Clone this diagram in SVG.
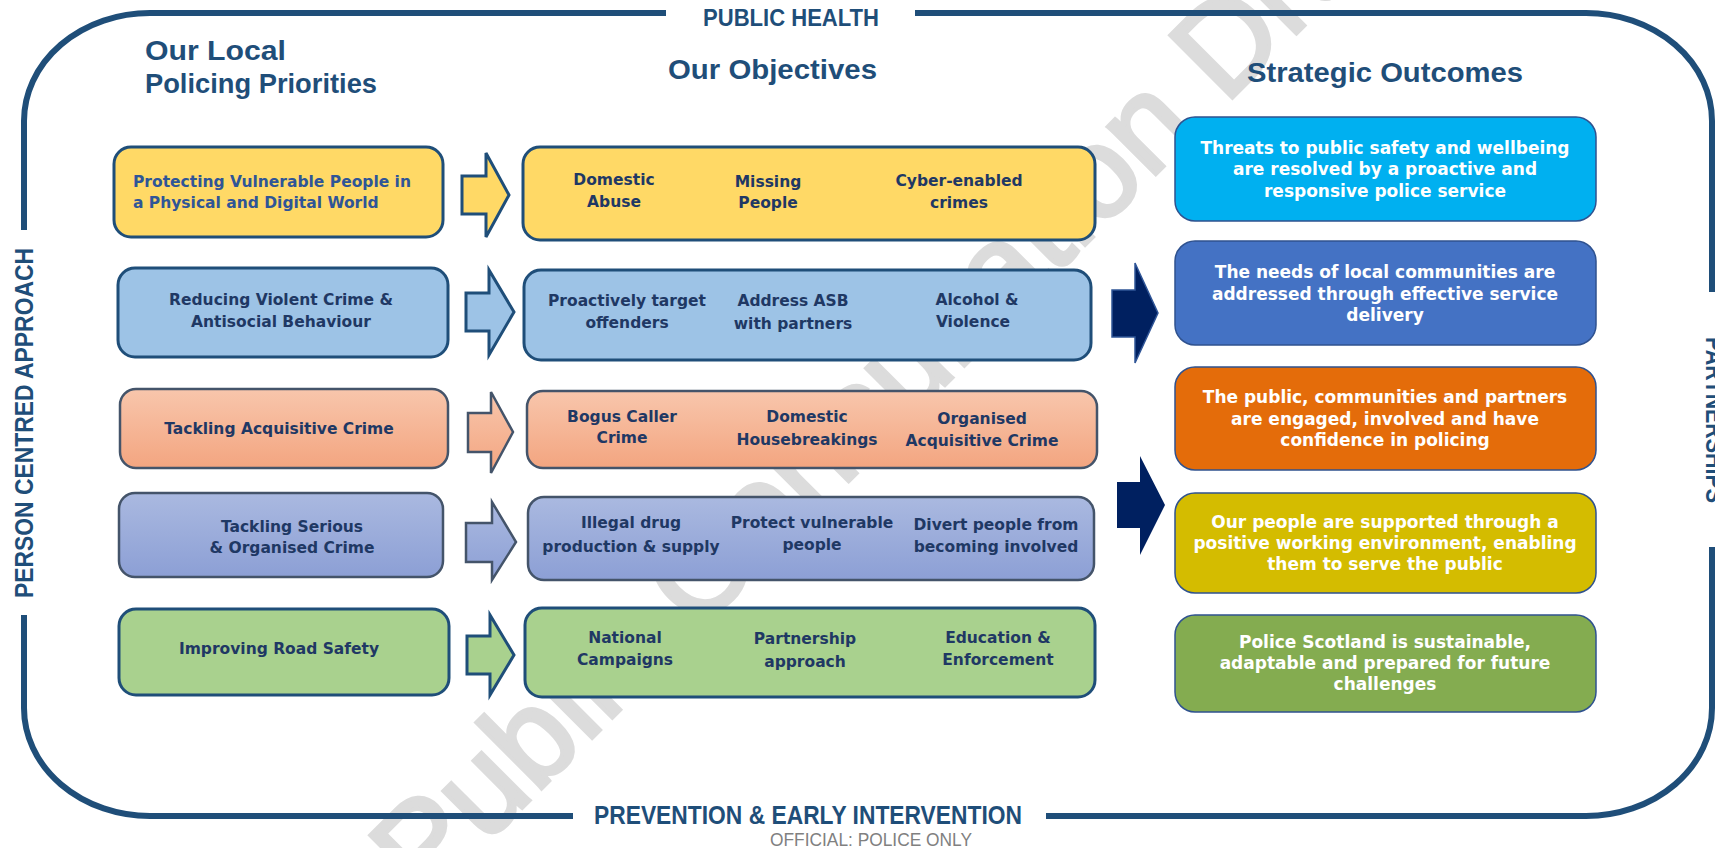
<svg xmlns="http://www.w3.org/2000/svg" width="1715" height="848" viewBox="0 0 1715 848">
<defs>
<linearGradient id="gSalmon" x1="0" y1="0" x2="0" y2="1"><stop offset="0" stop-color="#F8C6AC"/><stop offset="1" stop-color="#F3A580"/></linearGradient>
<linearGradient id="gPeri" x1="0" y1="0" x2="0" y2="1"><stop offset="0" stop-color="#AAB9E0"/><stop offset="1" stop-color="#8C9FD5"/></linearGradient>
<style>
.frame{fill:none;stroke:#1F4E79;stroke-width:6}
.hd{font-family:"Liberation Sans",Arial,sans-serif;font-weight:bold;fill:#1F4E79}
.bt{font-family:"DejaVu Sans",sans-serif;font-weight:bold;font-size:15.5px;fill:#1F3864;text-anchor:middle}
.ot{font-family:"DejaVu Sans",sans-serif;font-weight:bold;font-size:17px;fill:#FFFFFF;text-anchor:middle}
.bx{stroke:#1F4E79;stroke-width:3}
.bxg{stroke:#44546A;stroke-width:2.5}
.ob{stroke:#2F528F;stroke-width:1.5}
.yel{fill:#FFD966}.blu{fill:#9DC3E6}.sal{fill:url(#gSalmon)}.per{fill:url(#gPeri)}.grn{fill:#A9D18E}
.big{fill:#002060;stroke:#2F5597;stroke-width:1.5}
.wm{font-family:"Liberation Sans",Arial,sans-serif;font-size:128px;fill:#DCDCDC;stroke:#DCDCDC;stroke-width:4}
</style>
</defs>
<rect width="1715" height="848" fill="#FFFFFF"/>

<g id="watermark">
<text class="wm" transform="translate(425,905) rotate(-45)">Public Consultation Draft</text>
</g>

<g id="frame">
<path class="frame" d="M666,13 L150,13 A126,108 0 0 0 24,121 L24,230 M24,615 L24,708 A126,108 0 0 0 150,816 L573,816 M1046,816 L1586,816 A126,108 0 0 0 1712,708 L1712,547 M1712,292 L1712,121 A126,108 0 0 0 1586,13 L915,13"/>
<text class="hd" x="791" y="26" font-size="24" text-anchor="middle" textLength="176" lengthAdjust="spacingAndGlyphs">PUBLIC HEALTH</text>
<text class="hd" x="808" y="824" font-size="25" text-anchor="middle" textLength="428" lengthAdjust="spacingAndGlyphs">PREVENTION &amp; EARLY INTERVENTION</text>
<text class="hd" font-size="25" text-anchor="middle" transform="translate(33,423) rotate(-90)" textLength="350" lengthAdjust="spacingAndGlyphs">PERSON CENTRED APPROACH</text>
<text class="hd" font-size="25" text-anchor="middle" transform="translate(1706,420) rotate(90)" textLength="166" lengthAdjust="spacingAndGlyphs">PARTNERSHIPS</text>
<text x="871" y="846" font-family="Liberation Sans, Arial, sans-serif" font-size="19" fill="#808080" text-anchor="middle" textLength="202" lengthAdjust="spacingAndGlyphs">OFFICIAL:  POLICE ONLY</text>
</g>

<g id="headings">
<text class="hd" x="145" y="60" font-size="28" textLength="141" lengthAdjust="spacingAndGlyphs">Our  Local</text>
<text class="hd" x="145" y="93" font-size="28" textLength="232" lengthAdjust="spacingAndGlyphs">Policing Priorities</text>
<text class="hd" x="668" y="79" font-size="28" textLength="209" lengthAdjust="spacingAndGlyphs">Our Objectives</text>
<text class="hd" x="1247" y="82" font-size="28" textLength="276" lengthAdjust="spacingAndGlyphs">Strategic Outcomes</text>
</g>

<g id="priority-1">
<rect class="bx yel" x="114" y="147" width="329" height="90" rx="17"/>
<text class="bt" style="text-anchor:start;fill:#2F5597" x="133" y="187">Protecting Vulnerable People in</text>
<text class="bt" style="text-anchor:start;fill:#2F5597" x="133" y="208">a Physical and Digital World</text>
</g>
<g id="priority-2">
<rect class="bx blu" x="118" y="268" width="330" height="89" rx="17"/>
<text class="bt" x="281" y="305">Reducing Violent Crime &amp;</text>
<text class="bt" x="281" y="327">Antisocial Behaviour</text>
</g>
<g id="priority-3">
<rect class="bxg sal" x="120" y="389" width="328" height="79" rx="16"/>
<text class="bt" x="279" y="434">Tackling Acquisitive Crime</text>
</g>
<g id="priority-4">
<rect class="bxg per" x="119" y="493" width="324" height="84" rx="16"/>
<text class="bt" x="292" y="532">Tackling Serious</text>
<text class="bt" x="292" y="553">&amp; Organised Crime</text>
</g>
<g id="priority-5">
<rect class="bx grn" x="119" y="609" width="330" height="86" rx="17"/>
<text class="bt" x="279" y="654">Improving Road Safety</text>
</g>

<g id="objectives-1">
<rect class="bx yel" x="523" y="147" width="572" height="93" rx="17"/>
<text class="bt" x="614" y="185">Domestic</text><text class="bt" x="614" y="207">Abuse</text>
<text class="bt" x="768" y="187">Missing</text><text class="bt" x="768" y="208">People</text>
<text class="bt" x="959" y="186">Cyber-enabled</text><text class="bt" x="959" y="208">crimes</text>
</g>
<g id="objectives-2">
<rect class="bx blu" x="524" y="270" width="567" height="90" rx="17"/>
<text class="bt" x="627" y="306">Proactively target</text><text class="bt" x="627" y="328">offenders</text>
<text class="bt" x="793" y="306">Address ASB</text><text class="bt" x="793" y="329">with partners</text>
<text class="bt" x="977" y="305">Alcohol &amp;</text><text class="bt" x="973" y="327">Violence</text>
</g>
<g id="objectives-3">
<rect class="bxg sal" x="527" y="391" width="570" height="77" rx="16"/>
<text class="bt" x="622" y="422">Bogus Caller</text><text class="bt" x="622" y="443">Crime</text>
<text class="bt" x="807" y="422">Domestic</text><text class="bt" x="807" y="445">Housebreakings</text>
<text class="bt" x="982" y="424">Organised</text><text class="bt" x="982" y="446">Acquisitive Crime</text>
</g>
<g id="objectives-4">
<rect class="bxg per" x="528" y="497" width="566" height="83" rx="16"/>
<text class="bt" x="631" y="528">Illegal drug</text><text class="bt" x="631" y="552">production &amp; supply</text>
<text class="bt" x="812" y="528">Protect vulnerable</text><text class="bt" x="812" y="550">people</text>
<text class="bt" x="996" y="530">Divert people from</text><text class="bt" x="996" y="552">becoming involved</text>
</g>
<g id="objectives-5">
<rect class="bx grn" x="525" y="608" width="570" height="89" rx="17"/>
<text class="bt" x="625" y="643">National</text><text class="bt" x="625" y="665">Campaigns</text>
<text class="bt" x="805" y="644">Partnership</text><text class="bt" x="805" y="667">approach</text>
<text class="bt" x="998" y="643">Education &amp;</text><text class="bt" x="998" y="665">Enforcement</text>
</g>

<g id="outcome-1">
<rect class="ob" fill="#00B0F0" x="1175" y="117" width="421" height="104" rx="20"/>
<text class="ot" x="1385" y="154">Threats to public safety and wellbeing</text>
<text class="ot" x="1385" y="175">are resolved by a proactive and</text>
<text class="ot" x="1385" y="197">responsive police service</text>
</g>
<g id="outcome-2">
<rect class="ob" fill="#4472C4" x="1175" y="241" width="421" height="104" rx="20"/>
<text class="ot" x="1385" y="278">The needs of local communities are</text>
<text class="ot" x="1385" y="300">addressed through effective service</text>
<text class="ot" x="1385" y="321">delivery</text>
</g>
<g id="outcome-3">
<rect class="ob" fill="#E46C0A" x="1175" y="367" width="421" height="103" rx="20"/>
<text class="ot" x="1385" y="403">The public, communities and partners</text>
<text class="ot" x="1385" y="425">are engaged, involved and have</text>
<text class="ot" x="1385" y="446">confidence in policing</text>
</g>
<g id="outcome-4">
<rect class="ob" fill="#D4BC00" x="1175" y="493" width="421" height="100" rx="20"/>
<text class="ot" x="1385" y="528">Our people are supported through a</text>
<text class="ot" x="1385" y="549">positive working environment, enabling</text>
<text class="ot" x="1385" y="570">them to serve the public</text>
</g>
<g id="outcome-5">
<rect class="ob" fill="#84AC50" x="1175" y="615" width="421" height="97" rx="20"/>
<text class="ot" x="1385" y="648">Police Scotland is sustainable,</text>
<text class="ot" x="1385" y="669">adaptable and prepared for future</text>
<text class="ot" x="1385" y="690">challenges</text>
</g>

<g id="connectors">
<polygon class="bx yel" points="462,176 486,176 486,153 509,195 486,237 486,214 462,214"/>
<polygon class="bx blu" points="466,293 489,293 489,270 514,312 489,355 489,331 466,331"/>
<polygon class="bxg sal" points="468,413 491,413 491,392 513,432 491,473 491,452 468,452"/>
<polygon class="bxg per" points="466,523 492,523 492,502 516,542 492,580 492,562 466,562"/>
<polygon class="bx grn" points="467,636 490,636 490,615 514,655 490,695 490,674 467,674"/>
<polygon class="big" points="1112,290 1135,290 1135,263 1158,313 1135,363 1135,337 1112,337"/>
<polygon class="big" style="stroke:none" points="1117,482 1140,482 1140,456 1165,505 1140,555 1140,528 1117,528"/>
</g>
</svg>
